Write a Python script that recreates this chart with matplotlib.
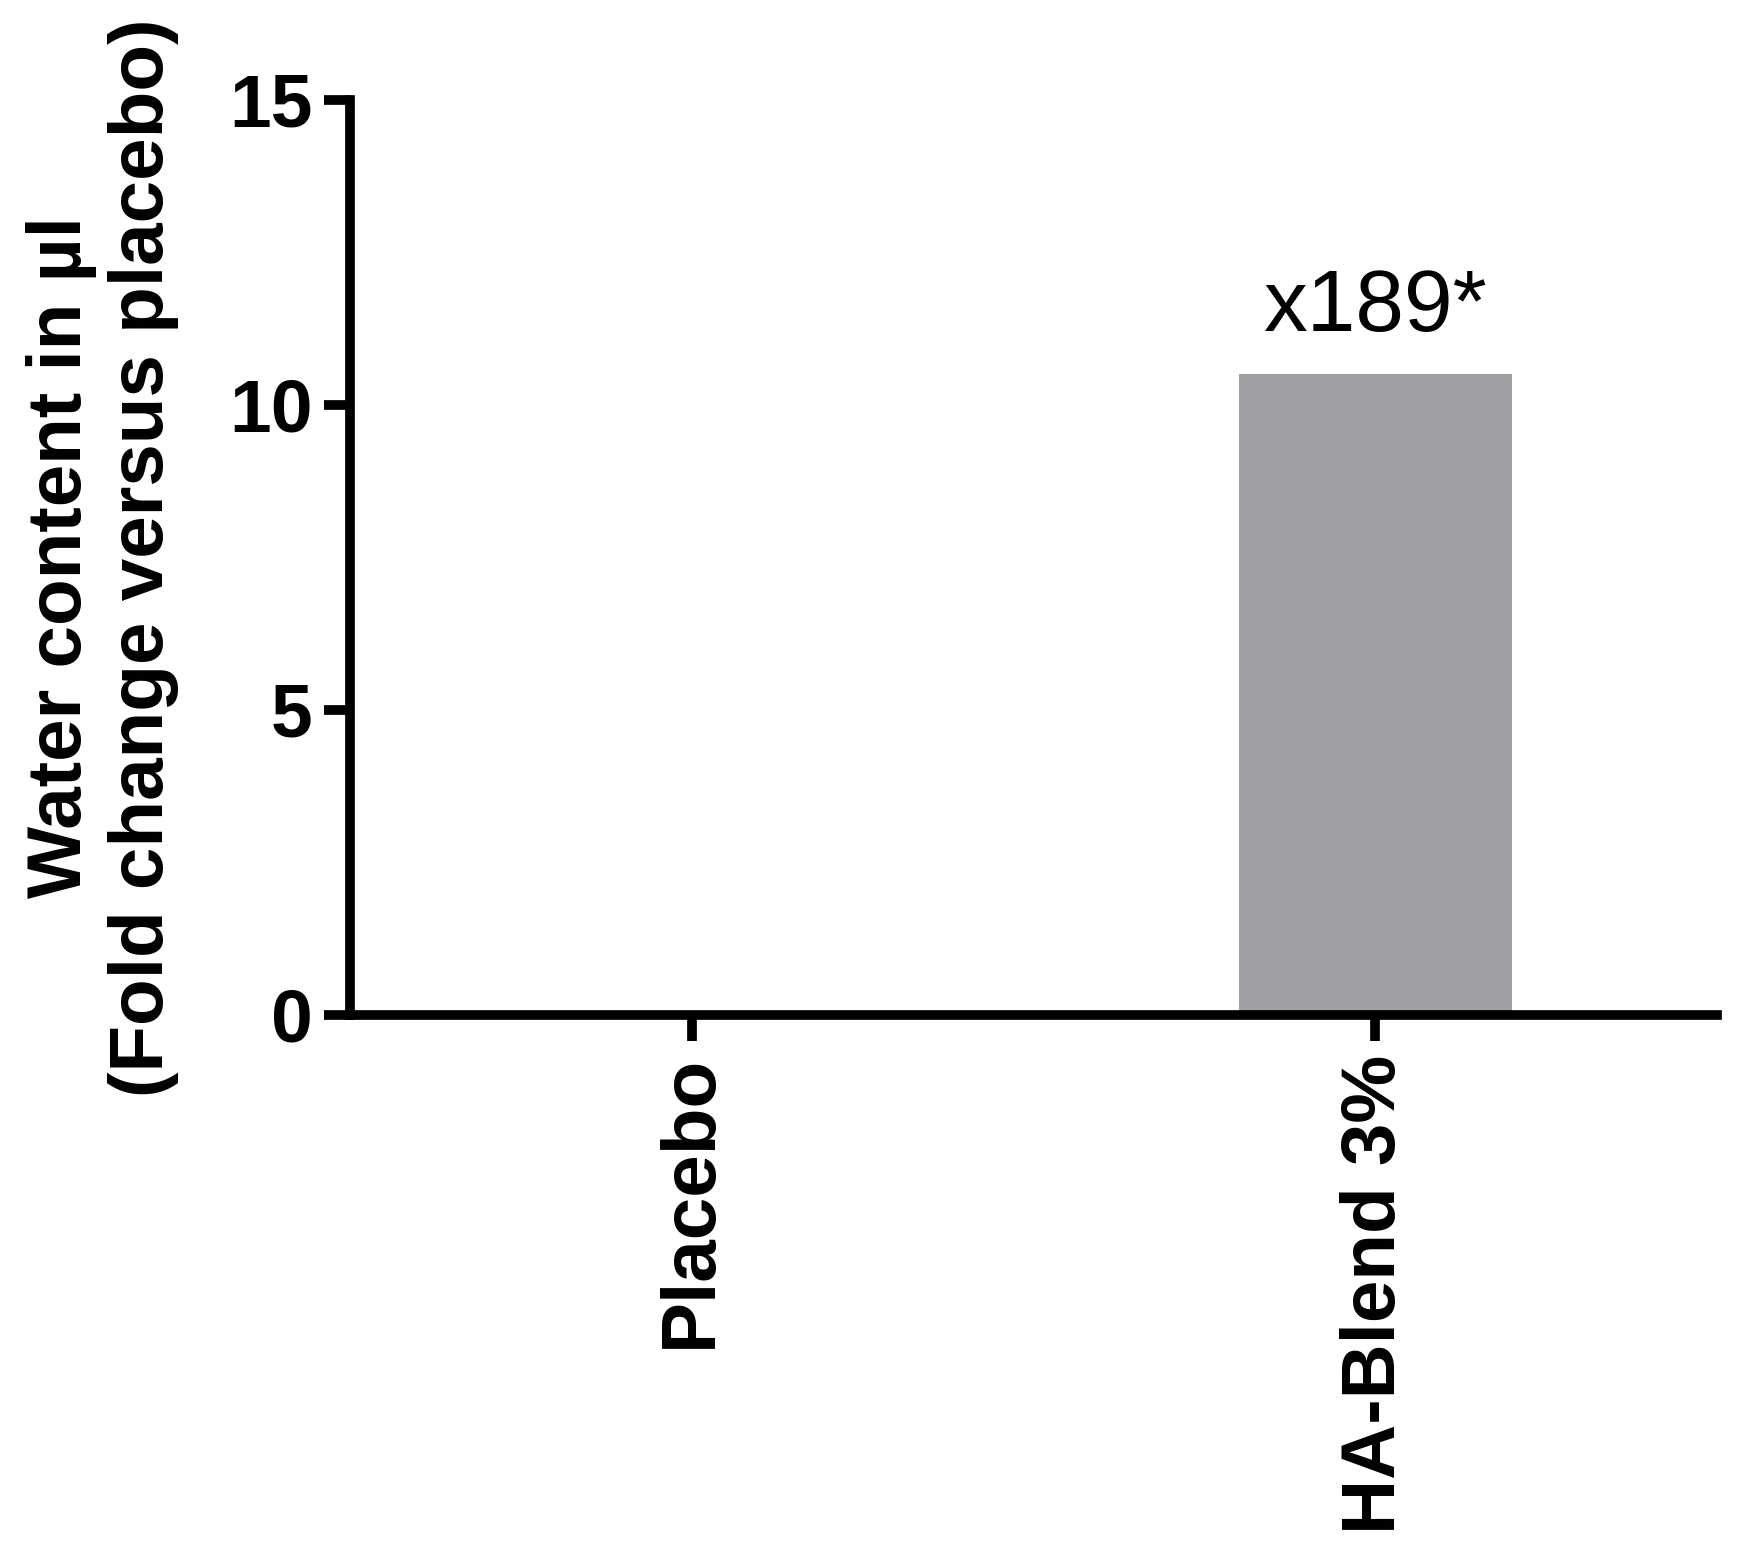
import matplotlib
matplotlib.use("Agg")
import matplotlib.pyplot as plt

# dane
categories = ["Placebo", "HA-Blend 3%"]
values = [0.0, 10.5]
annotations = ["", "x189*"]

plt.rcParams['font.family'] = ['Liberation Sans', 'DejaVu Sans']

fig = plt.figure(figsize=(17.39, 15.42), dpi=100)
ax = fig.add_axes([0.2013, 0.3418, 0.7861, 0.5934])

x = list(range(len(categories)))
ax.bar(x, values, width=0.40, color="#a09fa4", edgecolor="none", zorder=1)

# napis nad slupkiem
for i, txt in enumerate(annotations):
    if txt:
        ax.text(x[i], values[i] + 0.72, txt, ha="center", va="baseline",
                fontsize=63, color="black")

ax.set_xlim(-0.5, 1.5)
ax.set_ylim(0, 15)
ax.set_yticks([0, 5, 10, 15])
ax.set_xticks(x)
ax.set_xticklabels(categories, rotation=90, fontsize=55, fontweight="bold")
for lab in ax.get_yticklabels():
    lab.set_fontsize(54)
    lab.set_fontweight("bold")

for side in ["top", "right"]:
    ax.spines[side].set_visible(False)
for side in ["left", "bottom"]:
    ax.spines[side].set_linewidth(7)
    ax.spines[side].set_capstyle("projecting")

ax.tick_params(axis="both", width=7, length=19, pad=8, color="black")
ax.tick_params(axis="x", pad=10)

ax.set_ylabel("Water content in µl\n(Fold change versus placebo)",
              fontsize=55, fontweight="bold", labelpad=36, linespacing=1.2)

fig.savefig("out.png", dpi=100)
